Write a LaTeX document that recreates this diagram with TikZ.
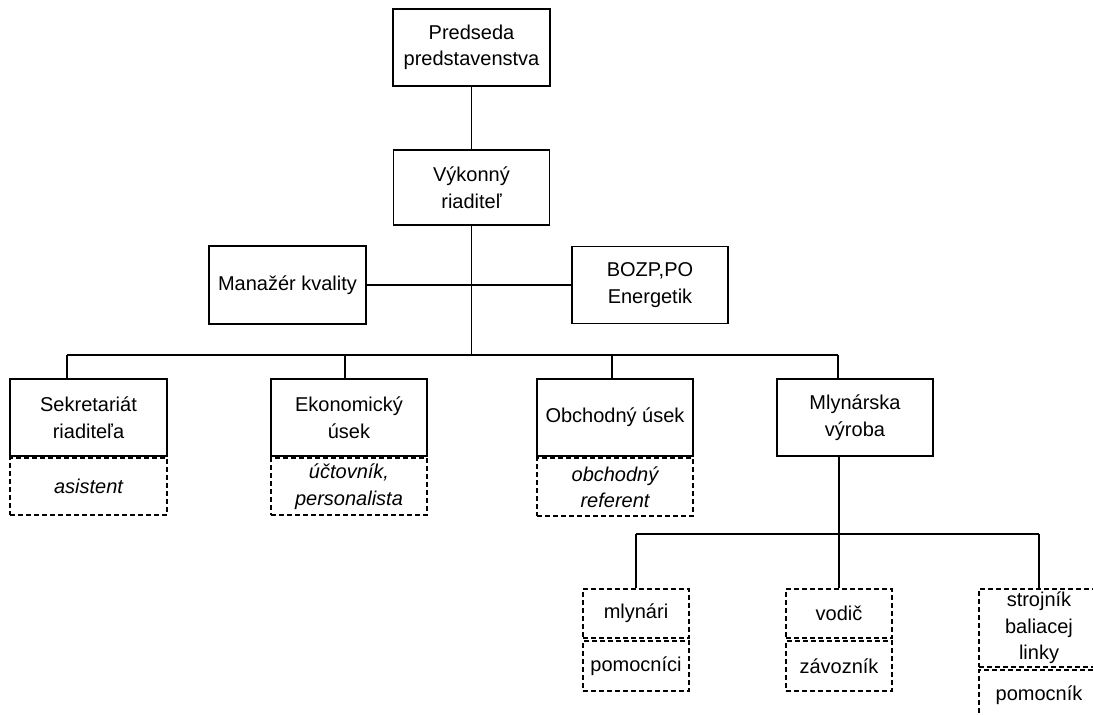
\documentclass[tikz,border=0pt]{standalone}
\usepackage{fontspec}
\setmainfont{Liberation Sans}
\begin{document}
\begin{tikzpicture}[x=1pt,y=-1pt,
  txt/.style={font=\fontsize{20}{26.5}\selectfont},
  solidbox/.style={draw, line width=1.4pt, align=center, inner sep=0pt, txt},
  dashbox/.style={draw, line width=1.3pt, dash pattern=on 5pt off 3pt, align=center, inner sep=0pt, txt},
  itbox/.style={dashbox, font=\fontsize{20}{26.5}\selectfont\itshape},
  sz/.style 2 args={minimum width=#1pt, minimum height=#2pt},
  conn/.style={line width=1.5pt}]
\useasboundingbox (0,0) rectangle (1093,715);
\clip (0,0) rectangle (1093,715);
\fill[white] (0,0) rectangle (1093,715);

% top
\node[solidbox, sz={157}{77}] (pred) at (471.5,47.5) {Predseda\\predstavenstva};
\node[solidbox, sz={156}{75}] (vyk) at (471.5,187.5) {Výkonný\\riaditeľ};
\node[solidbox, sz={157}{78}] (man) at (287.5,285) {Manažér kvality};
\node[solidbox, sz={156}{77}] (bozp) at (650,285) {BOZP,PO\\Energetik};

% departments
\node[solidbox, sz={157}{77}] (sek) at (88.5,417.5) {Sekretariát\\riaditeľa};
\node[itbox, sz={157}{57}] (sekd) at (88.5,486.5) {asistent};
\node[solidbox, sz={156}{77}] (eko) at (349,417.5) {Ekonomický\\úsek};
\node[itbox, sz={156}{57}] (ekod) at (349,486.5) {účtovník,\\personalista};
\node[solidbox, sz={156}{77}] (obch) at (615,417.5) {Obchodný úsek};
\node[itbox, sz={156}{58}] (obchd) at (615,487) {obchodný\\referent};
\node[solidbox, sz={156}{77}] (mlyn) at (855,417.5) {Mlynárska\\výroba};

% production
\node[dashbox, sz={106}{49}] (mlynari) at (636,613.5) {mlynári};
\node[dashbox, sz={106}{50}] (pomocnici) at (636,666) {pomocníci};
\node[dashbox, sz={106}{49}] (vodic) at (839,613.5) {vodič};
\node[dashbox, sz={106}{50}] (zavoznik) at (839,666) {závozník};
\node[dashbox, sz={120}{78}] (strojnik) at (1039,628) {strojník\\baliacej\\linky};
\node[dashbox, sz={120}{50}] (pomocnik) at (1039,695) {pomocník};

% connectors
\coordinate (j) at (471.5,355);
\coordinate (busL) at (67,355);
\coordinate (b2) at (345,355);
\coordinate (b3) at (612,355);
\coordinate (busR) at (838,355);
\coordinate (j2) at (839,534);
\coordinate (lbL) at (636,534);
\coordinate (lbR) at (1039,534);

\draw[conn] (pred.south) -- (vyk.north);
\draw[conn] (vyk.south) -- (j);
\draw[conn] (man.east) -- (man.east -| bozp.west);
\draw[conn] (busL) -- (busR);
\draw[conn] (busL) -- (busL |- sek.north);
\draw[conn] (b2) -- (b2 |- eko.north);
\draw[conn] (b3) -- (b3 |- obch.north);
\draw[conn] (busR) -- (busR |- mlyn.north);
\draw[conn] (j2 |- mlyn.south) -- (vodic.north);
\draw[conn] (lbL) -- (lbR);
\draw[conn] (lbL) -- (mlynari.north);
\draw[conn] (lbR) -- (strojnik.north);
\end{tikzpicture}
\end{document}
